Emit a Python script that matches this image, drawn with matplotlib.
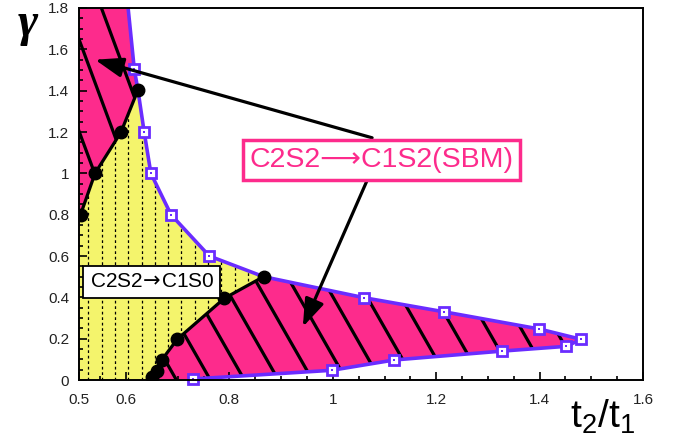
import matplotlib
matplotlib.use("Agg")
import matplotlib.pyplot as plt
import numpy as np
from matplotlib.patches import Polygon
from matplotlib.collections import LineCollection
from matplotlib.ticker import MultipleLocator

plt.rcParams["font.family"] = ["Liberation Sans", "DejaVu Sans"]
plt.rcParams["mathtext.fontset"] = "custom"
plt.rcParams["mathtext.rm"] = "DejaVu Sans"
plt.rcParams["mathtext.it"] = "DejaVu Sans"
plt.rcParams["mathtext.sf"] = "Liberation Sans"

# ---- phase boundary data (t2/t1, gamma) ----
# SBM domain boundary, upper branch then lower branch
blue_x = [0.604, 0.616, 0.623, 0.635, 0.648, 0.687, 0.761, 0.866,
          1.061, 1.215, 1.399, 1.480, 1.452, 1.328, 1.119, 0.998, 0.730]
blue_y = [1.800, 1.503, 1.403, 1.201, 1.000, 0.800, 0.600, 0.500,
          0.398, 0.330, 0.247, 0.197, 0.163, 0.140, 0.097, 0.047, 0.005]
blue_marked = [False, True, False, True, True, True, True, False,
               True, True, True, True, True, True, True, True, True]

# C2S2 -> C1S0 / C1S2 transition lines (black dots)
upper_tr_x = [0.512, 0.540, 0.590, 0.623]
upper_tr_y = [0.800, 1.000, 1.198, 1.403]
lower_tr_x = [0.650, 0.659, 0.669, 0.699, 0.790, 0.866]
lower_tr_y = [0.013, 0.045, 0.097, 0.197, 0.395, 0.500]

x_ticks = [0.509, 0.6, 0.8, 1.0, 1.2, 1.4, 1.6]
x_tick_labels = ["0.5", "0.6", "0.8", "1", "1.2", "1.4", "1.6"]
y_ticks = [0, 0.2, 0.4, 0.6, 0.8, 1.0, 1.2, 1.4, 1.6, 1.8]
y_tick_labels = ["0", "0.2", "0.4", "0.6", "0.8", "1", "1.2", "1.4", "1.6", "1.8"]

PINK = "#fd2b8c"
YELLOW = "#f4f46c"
BLUE = "#6a2cff"

W_PX, H_PX = 677, 446
AX_L, AX_R, AX_T, AX_B = 79, 643, 8, 380

fig = plt.figure(figsize=(W_PX / 100, H_PX / 100), dpi=100)
ax = fig.add_axes([AX_L / W_PX, (H_PX - AX_B) / H_PX,
                   (AX_R - AX_L) / W_PX, (AX_B - AX_T) / H_PX])
ax.set_xlim(0.509, 1.6)
ax.set_ylim(0, 1.8)

# ---- regions ----
ib = blue_y.index(1.403)
ie = blue_y.index(0.500)

pink_up = ([(0.50, upper_tr_y[0])] + list(zip(upper_tr_x, upper_tr_y))
           + list(zip(blue_x[:ib + 1], blue_y[:ib + 1]))[::-1]
           + [(0.50, 1.8)])
yellow = ([(0.50, 0.0), (0.50, upper_tr_y[0])]
          + list(zip(upper_tr_x, upper_tr_y))
          + list(zip(blue_x[ib:ie + 1], blue_y[ib:ie + 1]))
          + list(zip(lower_tr_x, lower_tr_y))[::-1]
          + [(lower_tr_x[0] - 0.003, 0.0)])
pink_low = ([(lower_tr_x[0] - 0.003, 0.0)]
            + list(zip(lower_tr_x, lower_tr_y))
            + list(zip(blue_x[ie:], blue_y[ie:]))
            + [(blue_x[-1] - 0.01, 0.0)])

p_yel = Polygon(yellow, closed=True, fc=YELLOW, ec="none", zorder=1)
p_up = Polygon(pink_up, closed=True, fc=PINK, ec="none", zorder=1)
p_low = Polygon(pink_low, closed=True, fc=PINK, ec="none", zorder=1)
for p in (p_yel, p_up, p_low):
    ax.add_patch(p)

AW, AH = AX_R - AX_L, AX_B - AX_T


def slanted_hatch(patch, x0, y0, slope, spacing, lw):
    """Parallel down-right strokes (pixel geometry) clipped to a patch."""
    segs = []
    for k in range(-40, 41):
        cx = x0 + k * spacing
        t = 2 * AH
        p1 = (cx - t, y0 + slope * t)
        p2 = (cx + t, y0 - slope * t)
        segs.append([(p1[0] / AW, p1[1] / AH), (p2[0] / AW, p2[1] / AH)])
    lc = LineCollection(segs, colors="black", linewidths=lw,
                        transform=ax.transAxes, zorder=2)
    ax.add_collection(lc)
    lc.set_clip_path(patch)


def dashed_verticals(patch, x0, spacing, lw):
    segs = []
    for k in range(0, 60):
        fx = (x0 + k * spacing) / AW
        segs.append([(fx, 0.0), (fx, 1.0)])
    lc = LineCollection(segs, colors="black", linewidths=lw,
                        linestyles=(0, (2.2, 2.2)),
                        transform=ax.transAxes, zorder=2)
    ax.add_collection(lc)
    lc.set_clip_path(patch)


slanted_hatch(p_up, 1, 338, 2.7, 34, 2.3)
slanted_hatch(p_low, 196, 6, 1.75, 34, 2.3)
dashed_verticals(p_yel, 9.3, 13.3, 0.9)

# ---- lines and markers ----
ax.plot(blue_x, blue_y, color=BLUE, lw=2.6, zorder=4, solid_joinstyle="round")
mx = [x for x, m in zip(blue_x, blue_marked) if m]
my = [y for y, m in zip(blue_y, blue_marked) if m]
ax.plot(mx, my, ls="none", marker="s", ms=6.5, mfc="white", mec=BLUE,
        mew=2.0, zorder=6, clip_on=False)
ax.plot(mx, my, ls="none", marker="s", ms=2.0, mfc=BLUE, mec=BLUE,
        mew=0, zorder=7, clip_on=False)

ax.plot(upper_tr_x, upper_tr_y, color="black", lw=2.3, marker="o", ms=9,
        zorder=5)
ax.plot(lower_tr_x, lower_tr_y, color="black", lw=2.3, marker="o", ms=9,
        zorder=5)

# ---- labels in the plot ----
ax.text(1.094, 1.066, "C2S2\u27f6C1S2(SBM)", color=PINK, fontsize=20.5,
        ha="center", va="center", zorder=10,
        family=["Liberation Sans", "DejaVu Sans"],
        bbox=dict(boxstyle="square,pad=0.24", fc="white", ec=PINK, lw=2.5))
ax.text(0.650, 0.475, r"C2S2$\!\rightarrow\!$C1S0", color="black",
        fontsize=15, ha="center", va="center", zorder=10,
        bbox=dict(boxstyle="square,pad=0.3", fc="white", ec="black", lw=1.3))

arrow_kw = dict(arrowstyle="-|>,head_length=0.85,head_width=0.3",
                color="black", lw=2.3, mutation_scale=20,
                shrinkA=0, shrinkB=0)
ax.annotate("", xy=(0.540, 1.550), xytext=(1.076, 1.172),
            arrowprops=arrow_kw, zorder=9)
ax.annotate("", xy=(0.942, 0.257), xytext=(1.066, 0.964),
            arrowprops=arrow_kw, zorder=9)

# ---- axes styling ----
for s in ax.spines.values():
    s.set_linewidth(1.4)
    s.set_zorder(12)
ax.set_xticks(x_ticks)
ax.set_xticklabels(x_tick_labels)
ax.set_yticks(y_ticks)
ax.set_yticklabels(y_tick_labels)
ax.xaxis.set_minor_locator(MultipleLocator(0.05))
ax.yaxis.set_minor_locator(MultipleLocator(0.05))
ax.tick_params(which="both", direction="in", top=False, right=False,
               labelsize=11, colors="black", labelcolor="#222222", width=1.2)
ax.tick_params(which="major", length=6)
ax.tick_params(which="minor", length=3)
ax.tick_params(axis="x", pad=9)
ax.tick_params(axis="y", pad=7)

fig.text(28 / W_PX, 1 - 24 / H_PX, "\u03b3", fontsize=35, ha="center",
         va="center", family="Liberation Serif", style="italic",
         weight="bold")
fig.text(570 / W_PX, 1 - 428 / H_PX, r"$\mathsf{t_2/t_1}$", fontsize=28,
         ha="left", va="baseline")

fig.savefig("out.png", dpi=100)
